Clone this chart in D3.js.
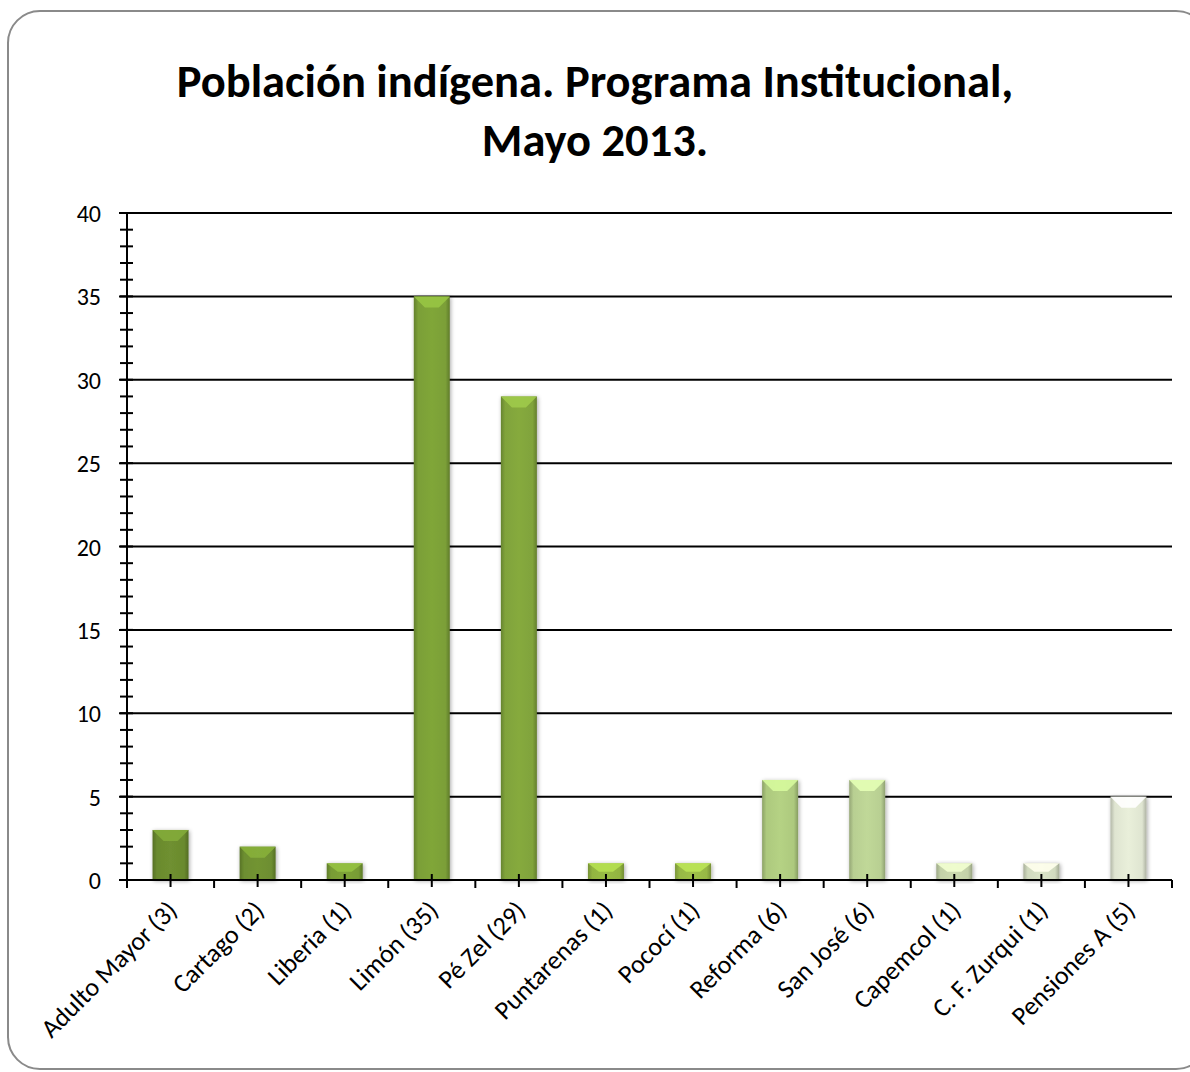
<!DOCTYPE html>
<html>
<head>
  <meta charset="utf-8">
  <title>Población indígena</title>
  <script src="https://d3js.org/d3.v7.min.js"></script>
  <style>
    body { margin: 0; background: #fff; }
    svg text { font-family: Carlito, Calibri, "Open Sans", sans-serif; fill: #000; }
  </style>
</head>
<body>
<div id="grafico"></div>
<script>
// datos
var categorias = ["Adulto Mayor (3)", "Cartago (2)", "Liberia (1)", "Limón (35)", "Pé Zel (29)",
  "Puntarenas (1)", "Pococí (1)", "Reforma (6)", "San José (6)", "Capemcol (1)",
  "C. F. Zurqui (1)", "Pensiones A (5)"];
var valores = [3, 2, 1, 35, 29, 1, 1, 6, 6, 1, 1, 5];
var ticksY = [0, 5, 10, 15, 20, 25, 30, 35, 40];
var titulo = ["Población indígena. Programa Institucional,", "Mayo 2013."];

var colores = ["#6a8a2e", "#6d8e30", "#789c35", "#7b9f37", "#80a33b", "#92b541", "#97b845",
  "#adc97e", "#b8cf92", "#c3d1a8", "#d1dabf", "#dfe5d1"];

var W = 1190, H = 1072;
var m = { left: 127, right: 1172, top: 213, bottom: 880 };

var svg = d3.select("#grafico").append("svg")
  .attr("width", W).attr("height", H);

// marco
svg.append("rect")
  .attr("x", 8).attr("y", 11).attr("width", 1200).attr("height", 1058)
  .attr("rx", 32).attr("ry", 32)
  .attr("fill", "#fff").attr("stroke", "#8a8a8a").attr("stroke-width", 2);

svg.append("g").selectAll("text").data(titulo).enter().append("text")
  .attr("x", 595).attr("y", (d, i) => 97 + i * 59)
  .attr("text-anchor", "middle")
  .style("font-weight", "bold").style("font-size", "46.5px")
  .text(d => d);

var x = d3.scaleBand().domain(categorias).range([m.left, m.right]).paddingInner(0).paddingOuter(0);
var y = d3.scaleLinear().domain([0, 40]).range([m.bottom, m.top]);

// gradientes
var defs = svg.append("defs");
colores.forEach(function(c, i) {
  var g = defs.append("linearGradient").attr("id", "g" + i).attr("x1", 0).attr("x2", 1).attr("y1", 0).attr("y2", 0);
  var base = d3.color(c);
  g.append("stop").attr("offset", "0%").attr("stop-color", base.darker(0.6));
  g.append("stop").attr("offset", "12%").attr("stop-color", base);
  g.append("stop").attr("offset", "50%").attr("stop-color", base.brighter(0.12));
  g.append("stop").attr("offset", "88%").attr("stop-color", base);
  g.append("stop").attr("offset", "100%").attr("stop-color", base.darker(0.7));
});
var sombra = defs.append("filter").attr("id", "sombra").attr("x", "-20%").attr("y", "-20%").attr("width", "140%").attr("height", "140%");
sombra.append("feGaussianBlur").attr("in", "SourceAlpha").attr("stdDeviation", 2);
sombra.append("feOffset").attr("dx", 1).attr("dy", 1).attr("result", "b");
sombra.append("feComponentTransfer").append("feFuncA").attr("type", "linear").attr("slope", 0.35);
var mg = sombra.append("feMerge");
mg.append("feMergeNode");
mg.append("feMergeNode").attr("in", "SourceGraphic");

// grilla
svg.append("g").selectAll("line").data(ticksY.filter(d => d > 0)).enter().append("line")
  .attr("x1", m.left - 8).attr("x2", m.right)
  .attr("y1", d => y(d)).attr("y2", d => y(d))
  .attr("stroke", "#000").attr("stroke-width", 2);

// barras
var bw = 36, bev = 11;
var barras = svg.append("g").selectAll("g").data(valores).enter().append("g")
  .attr("filter", "url(#sombra)");
barras.append("rect")
  .attr("x", (d, i) => x(categorias[i]) + x.bandwidth() / 2 - bw / 2)
  .attr("y", d => y(d))
  .attr("width", bw)
  .attr("height", d => y(0) - y(d))
  .attr("fill", (d, i) => "url(#g" + i + ")");
barras.append("path")
  .attr("d", function(d, i) {
    var x0 = x(categorias[i]) + x.bandwidth() / 2 - bw / 2, y0 = y(d);
    var h = Math.min(bev, (y(0) - y(d)) / 2);
    return "M" + x0 + "," + y0 + "L" + (x0 + bw) + "," + y0 + "L" + (x0 + bw - bev) + "," + (y0 + h) +
      "L" + (x0 + bev) + "," + (y0 + h) + "Z";
  })
  .attr("fill", (d, i) => d3.color(colores[i]).brighter(0.6))
  .attr("opacity", 0.9);

// eje Y
var eY = svg.append("g").attr("transform", "translate(" + m.left + ",0)");
eY.append("line").attr("x1", 0).attr("x2", 0).attr("y1", m.top).attr("y2", m.bottom)
  .attr("stroke", "#000").attr("stroke-width", 2);
eY.selectAll("line.menor").data(d3.range(0, 41)).enter().append("line").attr("class", "menor")
  .attr("x1", -7).attr("x2", 6).attr("y1", d => y(d)).attr("y2", d => y(d))
  .attr("stroke", "#000").attr("stroke-width", 2);
eY.selectAll("text").data(ticksY).enter().append("text")
  .attr("x", -26).attr("y", d => y(d) + 9)
  .attr("text-anchor", "end").style("font-size", "24px")
  .text(d => d);

// eje X
var eX = svg.append("g");
eX.append("line").attr("x1", m.left - 8).attr("x2", m.right).attr("y1", m.bottom).attr("y2", m.bottom)
  .attr("stroke", "#000").attr("stroke-width", 2);
eX.selectAll("line.div").data(d3.range(0, categorias.length + 1)).enter().append("line").attr("class", "div")
  .attr("x1", d => m.left + d * x.bandwidth()).attr("x2", d => m.left + d * x.bandwidth())
  .attr("y1", m.bottom).attr("y2", m.bottom + 8)
  .attr("stroke", "#000").attr("stroke-width", 2);
eX.selectAll("line.cen").data(categorias).enter().append("line").attr("class", "cen")
  .attr("x1", d => x(d) + x.bandwidth() / 2).attr("x2", d => x(d) + x.bandwidth() / 2)
  .attr("y1", m.bottom - 6).attr("y2", m.bottom + 7)
  .attr("stroke", "#000").attr("stroke-width", 2);
eX.selectAll("text").data(categorias).enter().append("text")
  .attr("transform", d => "translate(" + (x(d) + x.bandwidth() / 2 + 8) + "," + (m.bottom + 32) + ") rotate(-45)")
  .attr("text-anchor", "end").style("font-size", "26px")
  .text(d => d);
</script>
</body>
</html>
